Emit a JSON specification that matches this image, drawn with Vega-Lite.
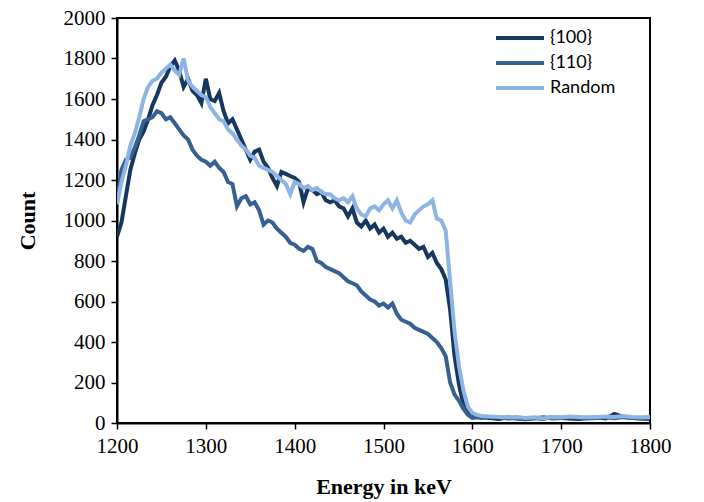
{
  "$schema": "https://vega.github.io/schema/vega-lite/v6.json",
  "autosize": "none",
  "width": 533,
  "height": 405,
  "padding": {"left": 117, "top": 18, "right": 54, "bottom": 79},
  "background": "white",
  "config": {
    "view": {"stroke": "black", "strokeWidth": 2},
    "axis": {"grid": false, "domainColor": "black", "domainWidth": 2, "tickColor": "black", "tickWidth": 1.5, "tickSize": 6, "labelColor": "black", "titleColor": "black", "labelFont": "Liberation Serif, Times New Roman, serif", "titleFont": "Liberation Serif, Times New Roman, serif"}
  },
  "data": {"values": [
    {"e":1200,"{100}":920,"{110}":1090,"Random":1080},
    {"e":1205,"{100}":990,"{110}":1250,"Random":1190},
    {"e":1210,"{100}":1120,"{110}":1300,"Random":1270},
    {"e":1215,"{100}":1250,"{110}":1310,"Random":1370},
    {"e":1220,"{100}":1330,"{110}":1360,"Random":1430},
    {"e":1225,"{100}":1400,"{110}":1420,"Random":1510},
    {"e":1230,"{100}":1440,"{110}":1490,"Random":1600},
    {"e":1235,"{100}":1500,"{110}":1500,"Random":1660},
    {"e":1240,"{100}":1570,"{110}":1510,"Random":1690},
    {"e":1245,"{100}":1620,"{110}":1540,"Random":1700},
    {"e":1250,"{100}":1680,"{110}":1530,"Random":1730},
    {"e":1255,"{100}":1710,"{110}":1500,"Random":1750},
    {"e":1260,"{100}":1760,"{110}":1510,"Random":1770},
    {"e":1265,"{100}":1790,"{110}":1480,"Random":1740},
    {"e":1270,"{100}":1740,"{110}":1450,"Random":1720},
    {"e":1275,"{100}":1660,"{110}":1420,"Random":1800},
    {"e":1280,"{100}":1700,"{110}":1400,"Random":1690},
    {"e":1285,"{100}":1640,"{110}":1350,"Random":1660},
    {"e":1290,"{100}":1620,"{110}":1320,"Random":1640},
    {"e":1295,"{100}":1580,"{110}":1300,"Random":1620},
    {"e":1300,"{100}":1700,"{110}":1290,"Random":1610},
    {"e":1305,"{100}":1600,"{110}":1270,"Random":1560},
    {"e":1310,"{100}":1590,"{110}":1290,"Random":1530},
    {"e":1315,"{100}":1630,"{110}":1260,"Random":1500},
    {"e":1320,"{100}":1540,"{110}":1240,"Random":1490},
    {"e":1325,"{100}":1480,"{110}":1190,"Random":1450},
    {"e":1330,"{100}":1500,"{110}":1180,"Random":1430},
    {"e":1335,"{100}":1450,"{110}":1070,"Random":1400},
    {"e":1340,"{100}":1400,"{110}":1110,"Random":1370},
    {"e":1345,"{100}":1350,"{110}":1120,"Random":1350},
    {"e":1350,"{100}":1300,"{110}":1080,"Random":1320},
    {"e":1355,"{100}":1340,"{110}":1090,"Random":1310},
    {"e":1360,"{100}":1350,"{110}":1050,"Random":1270},
    {"e":1365,"{100}":1290,"{110}":980,"Random":1260},
    {"e":1370,"{100}":1260,"{110}":1000,"Random":1250},
    {"e":1375,"{100}":1210,"{110}":990,"Random":1240},
    {"e":1380,"{100}":1170,"{110}":960,"Random":1220},
    {"e":1385,"{100}":1240,"{110}":940,"Random":1200},
    {"e":1390,"{100}":1230,"{110}":920,"Random":1180},
    {"e":1395,"{100}":1220,"{110}":890,"Random":1130},
    {"e":1400,"{100}":1210,"{110}":880,"Random":1190},
    {"e":1405,"{100}":1190,"{110}":860,"Random":1180},
    {"e":1410,"{100}":1090,"{110}":850,"Random":1160},
    {"e":1415,"{100}":1160,"{110}":870,"Random":1170},
    {"e":1420,"{100}":1150,"{110}":860,"Random":1150},
    {"e":1425,"{100}":1130,"{110}":800,"Random":1160},
    {"e":1430,"{100}":1140,"{110}":790,"Random":1140},
    {"e":1435,"{100}":1100,"{110}":770,"Random":1130},
    {"e":1440,"{100}":1090,"{110}":760,"Random":1130},
    {"e":1445,"{100}":1100,"{110}":750,"Random":1110},
    {"e":1450,"{100}":1070,"{110}":740,"Random":1100},
    {"e":1455,"{100}":1060,"{110}":720,"Random":1110},
    {"e":1460,"{100}":1020,"{110}":700,"Random":1090},
    {"e":1465,"{100}":1060,"{110}":690,"Random":1120},
    {"e":1470,"{100}":990,"{110}":680,"Random":1060},
    {"e":1475,"{100}":970,"{110}":650,"Random":1030},
    {"e":1480,"{100}":1000,"{110}":630,"Random":1020},
    {"e":1485,"{100}":960,"{110}":610,"Random":1060},
    {"e":1490,"{100}":980,"{110}":600,"Random":1070},
    {"e":1495,"{100}":940,"{110}":580,"Random":1050},
    {"e":1500,"{100}":960,"{110}":590,"Random":1080},
    {"e":1505,"{100}":920,"{110}":570,"Random":1100},
    {"e":1510,"{100}":940,"{110}":590,"Random":1060},
    {"e":1515,"{100}":910,"{110}":540,"Random":1100},
    {"e":1520,"{100}":920,"{110}":510,"Random":1040},
    {"e":1525,"{100}":890,"{110}":500,"Random":1000},
    {"e":1530,"{100}":900,"{110}":490,"Random":990},
    {"e":1535,"{100}":880,"{110}":470,"Random":1030},
    {"e":1540,"{100}":860,"{110}":460,"Random":1050},
    {"e":1545,"{100}":870,"{110}":450,"Random":1070},
    {"e":1550,"{100}":820,"{110}":440,"Random":1080},
    {"e":1555,"{100}":840,"{110}":420,"Random":1100},
    {"e":1560,"{100}":790,"{110}":400,"Random":1010},
    {"e":1565,"{100}":760,"{110}":370,"Random":1000},
    {"e":1570,"{100}":710,"{110}":330,"Random":950},
    {"e":1575,"{100}":560,"{110}":200,"Random":700},
    {"e":1580,"{100}":330,"{110}":140,"Random":450},
    {"e":1585,"{100}":190,"{110}":110,"Random":280},
    {"e":1590,"{100}":90,"{110}":70,"Random":160},
    {"e":1595,"{100}":50,"{110}":40,"Random":80},
    {"e":1600,"{100}":35,"{110}":25,"Random":50},
    {"e":1605,"{100}":30,"{110}":28,"Random":40},
    {"e":1610,"{100}":30,"{110}":25,"Random":35},
    {"e":1620,"{100}":25,"{110}":30,"Random":32},
    {"e":1630,"{100}":20,"{110}":28,"Random":30},
    {"e":1640,"{100}":28,"{110}":22,"Random":28},
    {"e":1650,"{100}":22,"{110}":25,"Random":30},
    {"e":1660,"{100}":18,"{110}":20,"Random":25},
    {"e":1670,"{100}":25,"{110}":24,"Random":28},
    {"e":1680,"{100}":20,"{110}":28,"Random":22},
    {"e":1690,"{100}":30,"{110}":22,"Random":30},
    {"e":1700,"{100}":25,"{110}":25,"Random":28},
    {"e":1710,"{100}":22,"{110}":30,"Random":32},
    {"e":1720,"{100}":20,"{110}":26,"Random":30},
    {"e":1730,"{100}":25,"{110}":22,"Random":28},
    {"e":1740,"{100}":28,"{110}":25,"Random":30},
    {"e":1750,"{100}":22,"{110}":28,"Random":32},
    {"e":1760,"{100}":45,"{110}":24,"Random":30},
    {"e":1770,"{100}":30,"{110}":30,"Random":35},
    {"e":1780,"{100}":25,"{110}":26,"Random":30},
    {"e":1790,"{100}":22,"{110}":22,"Random":28},
    {"e":1800,"{100}":20,"{110}":25,"Random":30}
  ]},
  "transform": [{"fold": ["{100}", "{110}", "Random"], "as": ["series", "count"]}],
  "mark": {"type": "line", "strokeWidth": 4, "clip": true},
  "encoding": {
    "x": {"field": "e", "type": "quantitative", "scale": {"domain": [1200, 1800], "nice": false}, "axis": {"values": [1200,1300,1400,1500,1600,1700,1800], "format": "d", "title": "Energy in keV", "labelFontSize": 21, "titleFontSize": 22, "titleFontWeight": "bold", "labelPadding": 6, "titlePadding": 20, "labelFlush": false}},
    "y": {"field": "count", "type": "quantitative", "scale": {"domain": [0, 2000], "nice": false}, "axis": {"values": [0,200,400,600,800,1000,1200,1400,1600,1800,2000], "format": "d", "title": "Count", "labelFontSize": 21, "titleFontSize": 22, "titleFontWeight": "bold", "labelPadding": 6, "titlePadding": 24, "labelFlush": false}},
    "color": {"field": "series", "type": "nominal", "scale": {"domain": ["{100}", "{110}", "Random"], "range": ["#17375E", "#376092", "#8EB4E3"]},
      "legend": {"title": null, "orient": "none", "legendX": 393, "legendY": 10, "symbolType": "M-3,0H3", "symbolSize": 256, "symbolStrokeWidth": 4, "labelFont": "Lato", "labelFontSize": 18, "labelColor": "black", "rowPadding": 6, "labelOffset": 20}},
    "order": {"field": "e", "type": "quantitative"}
  }
}
